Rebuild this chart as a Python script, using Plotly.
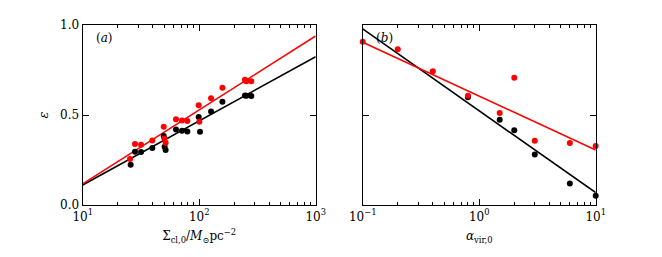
import plotly.graph_objects as go
import numpy as np

# Panel (a): epsilon vs Sigma_cl,0
sigma_red = [25.5, 28.1, 31.7, 39.6, 49.6, 50.2, 51.5, 63.2, 71.2, 79.1, 99.0, 100.3, 126.4, 158.2, 247, 254, 280]
eps_red_a = [0.256, 0.339, 0.335, 0.359, 0.435, 0.370, 0.346, 0.476, 0.470, 0.467, 0.554, 0.463, 0.593, 0.652, 0.696, 0.687, 0.687]
sigma_black = [25.8, 28.1, 31.7, 39.6, 49.6, 50.5, 51.5, 63.2, 71.2, 79.1, 99.0, 101.6, 126.4, 158.2, 247, 254, 280]
eps_black_a = [0.224, 0.296, 0.294, 0.317, 0.383, 0.324, 0.306, 0.420, 0.413, 0.409, 0.489, 0.407, 0.520, 0.574, 0.609, 0.607, 0.606]
fit_sigma = [10, 1000]
fit_red_a = [0.117, 0.939]
fit_black_a = [0.111, 0.824]

# Panel (b): epsilon vs alpha_vir,0
alpha_red = [0.1, 0.2, 0.4, 0.8, 1.5, 2.0, 3.0, 6.0, 10.0]
eps_red_b = [0.907, 0.865, 0.743, 0.607, 0.511, 0.707, 0.357, 0.344, 0.328]
alpha_black = [0.8, 1.5, 2.0, 3.0, 6.0, 10.0]
eps_black_b = [0.598, 0.474, 0.415, 0.281, 0.120, 0.052]
fit_alpha = [0.1, 10]
fit_red_b = [0.904, 0.306]
fit_black_b = [0.978, 0.069]

# tick labels
ticks_a = [10, 100, 1000]
labels_a = ["10<sup>1</sup>", "10<sup>2</sup>", "10<sup>3</sup>"]
ticks_b = [0.1, 1, 10]
labels_b = ["10<sup>−1</sup>", "10<sup>0</sup>", "10<sup>1</sup>"]

RED = "#ff0000"
BLACK = "#000000"
FONT = "DejaVu Serif"

fig = go.Figure()

def add(x, y, color, xa, ya, mode):
    if mode == "markers":
        fig.add_trace(go.Scatter(x=x, y=y, mode="markers", xaxis=xa, yaxis=ya,
                                 marker=dict(color=color, size=6), showlegend=False, cliponaxis=False))
    else:
        fig.add_trace(go.Scatter(x=x, y=y, mode="lines", xaxis=xa, yaxis=ya,
                                 line=dict(color=color, width=1.6), showlegend=False))

# invisible helper traces so the major-tick overlay axes get drawn
fig.add_trace(go.Scatter(x=fit_sigma, y=fit_black_a, mode="lines", xaxis="x3", yaxis="y",
                         line=dict(width=0), opacity=0, showlegend=False, hoverinfo="skip"))
fig.add_trace(go.Scatter(x=fit_alpha, y=fit_black_b, mode="lines", xaxis="x4", yaxis="y2",
                         line=dict(width=0), opacity=0, showlegend=False, hoverinfo="skip"))

add(fit_sigma, fit_black_a, BLACK, "x", "y", "lines")
add(fit_sigma, fit_red_a, RED, "x", "y", "lines")
add(sigma_black, eps_black_a, BLACK, "x", "y", "markers")
add(sigma_red, eps_red_a, RED, "x", "y", "markers")
add(fit_alpha, fit_black_b, BLACK, "x2", "y2", "lines")
add(fit_alpha, fit_red_b, RED, "x2", "y2", "lines")
add(alpha_black, eps_black_b, BLACK, "x2", "y2", "markers")
add(alpha_red, eps_red_b, RED, "x2", "y2", "markers")

def with_minor(majors, labels):
    vals, texts = list(majors), list(labels)
    for d in range(len(majors) - 1):
        for m in range(2, 10):
            vals.append(majors[d] * m)
            texts.append("")
    return vals, texts

va, ta = with_minor(ticks_a, labels_a)
vb, tb = with_minor(ticks_b, labels_b)

W, H, OFF = 662, 257, 8
ydom = [1 - (205 - OFF)/H, 1 - (25 - OFF)/H]
dom_a = [(82.7 - OFF)/W, (315.7 - OFF)/W]
dom_b = [(362.7 - OFF)/W, (595.7 - OFF)/W]
common_x = dict(type="log", showgrid=False, zeroline=False, showline=True, linecolor="black",
                linewidth=1.2, mirror="ticks", ticks="inside", ticklen=3, tickwidth=1,
                tickcolor="black", automargin=False, tickmode="array",
                tickfont=dict(family=FONT, size=12, color="black"))
major_x = dict(type="log", showgrid=False, zeroline=False, showline=True, linecolor="black",
               linewidth=1.2, mirror="ticks", ticks="inside", ticklen=6, tickwidth=1,
               tickcolor="black", automargin=False, tickmode="array", showticklabels=False)
common_y = dict(range=[0, 1], showgrid=False, zeroline=False, showline=True, linecolor="black",
                linewidth=1.2, mirror="ticks", ticks="inside", ticklen=6, tickwidth=1,
                tickcolor="black", automargin=False,
                tickvals=[0, 0.5, 1.0], tickfont=dict(family=FONT, size=12, color="black"),
                domain=ydom)

fig.update_layout(
    width=W, height=H, margin=dict(l=0, r=0, t=0, b=0),
    plot_bgcolor="white", paper_bgcolor="white",
    xaxis=dict(common_x, domain=dom_a, range=[1, 3], tickvals=va, ticktext=ta,
               title=dict(text="Σ<sub>cl,0</sub>/<i>M</i><sub>⊙</sub>pc<sup>−2</sup>",
                          font=dict(family=FONT, size=12, color="black"), standoff=9),
               anchor="y"),
    xaxis3=dict(major_x, domain=dom_a, range=[1, 3], tickvals=ticks_a, overlaying="x", anchor="y"),
    yaxis=dict(common_y, ticktext=["0.0", "0.5", "1.0"], anchor="x",
               title=dict(text="<i>ε</i>", font=dict(family=FONT, size=13, color="black"), standoff=8)),
    xaxis2=dict(common_x, domain=dom_b, range=[-1, 1], tickvals=vb, ticktext=tb,
                title=dict(text="<i>α</i><sub>vir,0</sub>",
                           font=dict(family=FONT, size=12, color="black"), standoff=9),
                anchor="y2"),
    xaxis4=dict(major_x, domain=dom_b, range=[-1, 1], tickvals=ticks_b, overlaying="x2", anchor="y2"),
    yaxis2=dict(common_y, showticklabels=False, anchor="x2"),
    annotations=[
        dict(text="(<i>a</i>)", xref="x domain", yref="y domain", x=0.05, y=0.93,
             xanchor="left", yanchor="middle", showarrow=False,
             font=dict(family=FONT, size=12, color="black")),
        dict(text="(<i>b</i>)", xref="x2 domain", yref="y2 domain", x=0.05, y=0.93,
             xanchor="left", yanchor="middle", showarrow=False,
             font=dict(family=FONT, size=12, color="black")),
    ],
)

fig.write_html("out.html")
